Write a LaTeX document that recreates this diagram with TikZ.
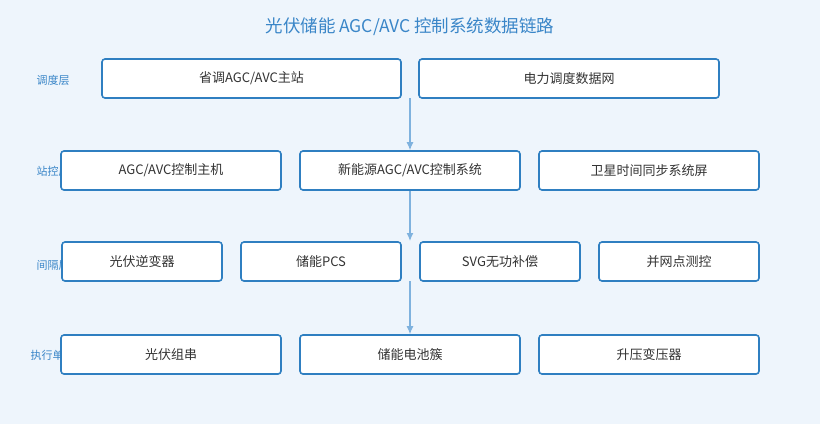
\documentclass[tikz,border=0pt]{standalone}
\usepackage{fontspec}
\setmainfont{Noto Sans CJK SC}
\definecolor{bgblue}{HTML}{EEF5FC}
\definecolor{lineblue}{HTML}{2F7FC1}
\definecolor{titleblue}{HTML}{3A86C8}
\definecolor{arrowblue}{HTML}{7FB2DE}
\definecolor{textgray}{HTML}{333333}
\tikzset{
  box/.style={draw=lineblue, line width=1.6pt, fill=white, rounded corners=3pt,
    text=textgray, font=\fontsize{13}{15}\selectfont, inner sep=0pt},
  layer/.style={text=titleblue, font=\fontsize{11}{13}\selectfont, anchor=west},
  link/.style={draw=arrowblue, line width=1.2pt, -{Latex[length=8pt,width=7pt]}}
}
\usetikzlibrary{arrows.meta}
\begin{document}
\begin{tikzpicture}[x=1pt,y=-1pt]
    \fill[bgblue] (0,0) rectangle (820,424);
    \useasboundingbox (0,0) rectangle (820,424);
    \node[text=titleblue, font=\fontsize{17.5}{20}\selectfont] (title) at (410,27) {光伏储能 AGC/AVC 控制系统数据链路};
    % layer labels
    \node[layer] (l1) at (33,80) {调度层};
    \node[layer] (l2) at (33,171) {站控层};
    \node[layer] (l3) at (33,265) {间隔层};
    \node[layer] (l4) at (27,355) {执行单元};
    % dispatch layer
    \node[box, minimum width=299, minimum height=39] (sd) at (251.5,78.5) {省调AGC/AVC主站};
    \node[box, minimum width=300, minimum height=39] (net) at (569,78.5) {电力调度数据网};
    % station layer
    \node[box, minimum width=220, minimum height=39] (host) at (171,170.5) {AGC/AVC控制主机};
    \node[box, minimum width=220, minimum height=39] (ctrl) at (410,170.5) {新能源AGC/AVC控制系统};
    \node[box, minimum width=220, minimum height=39] (gps) at (649,170.5) {卫星时间同步系统屏};
    % bay layer
    \node[box, minimum width=160, minimum height=39] (inv) at (142,261.5) {光伏逆变器};
    \node[box, minimum width=160, minimum height=39] (pcs) at (321,261.5) {储能PCS};
    \node[box, minimum width=160, minimum height=39] (svg) at (500,261.5) {SVG无功补偿};
    \node[box, minimum width=160, minimum height=39] (meas) at (679,261.5) {并网点测控};
    % execution layer
    \node[box, minimum width=220, minimum height=39] (str) at (171,354.5) {光伏组串};
    \node[box, minimum width=220, minimum height=39] (bat) at (410,354.5) {储能电池簇};
    \node[box, minimum width=220, minimum height=39] (tr) at (649,354.5) {升压变压器};
    % links
    \coordinate (a1) at (410,98);
    \coordinate (a2) at (410,241);
    \coordinate (a3) at (410,281);
    \draw[link] (a1) -- (ctrl.north);
    \draw[link] (ctrl.south) -- (a2);
    \draw[link] (a3) -- (bat.north);
\end{tikzpicture}
\end{document}
